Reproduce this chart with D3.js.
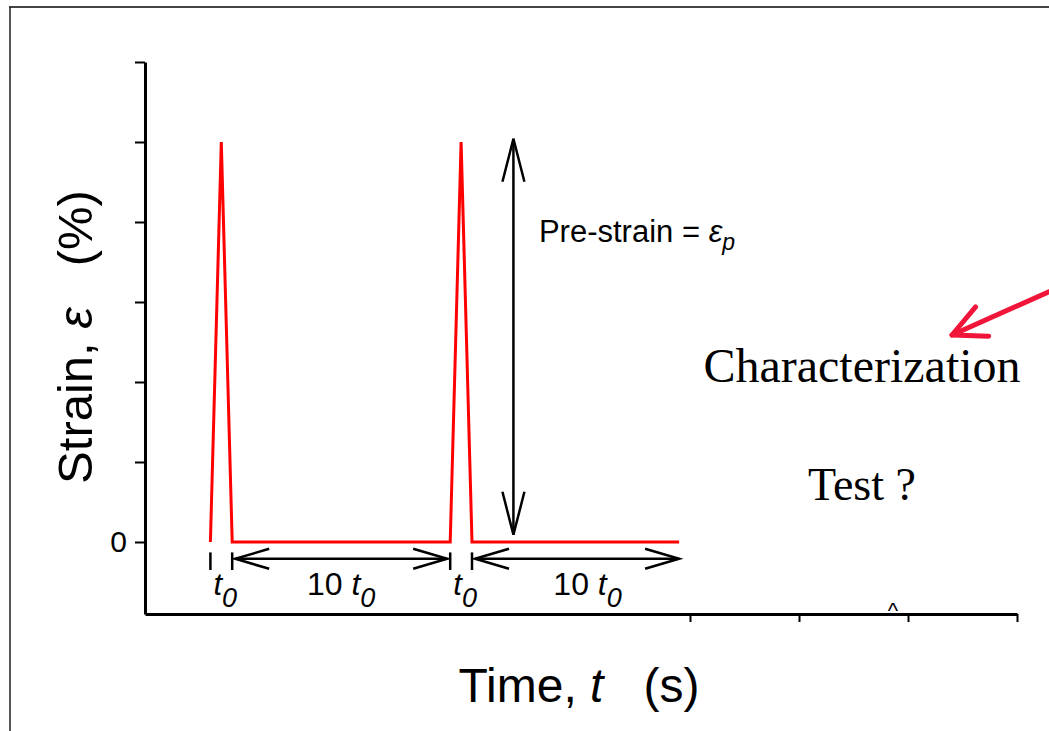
<!DOCTYPE html>
<html>
<head>
<meta charset="utf-8">
<script src="https://cdn.jsdelivr.net/npm/d3@7"></script>
<style>
  body { margin: 0; background: #fff; }
  text { white-space: pre; }
</style>
</head>
<body>
<div id="chart"></div>
<script>
// strain history (time in units of t0, strain in axis units)
var time   = [0, 0.5, 1, 11, 11.5, 12, 21.5];
var strain = [0, 5,   0, 0,  5,    0,  0];

var yTicks = [0, 1, 2, 3, 4, 5, 6];
var yTickLabels = ["0", "", "", "", "", "", ""];
var xTicks = [22, 27, 32, 37];

// dimension annotations under the curve
var dimMarks = [0, 1, 11, 12];
var spanStart = [1, 12];
var spanEnd = [11, 21.5];
var spanLabelAt = [6, 17.3];
var pulseLabelAt = [0.5, 11.5];

var width = 1049, height = 731;

var svg = d3.select("#chart").append("svg")
    .attr("width", width)
    .attr("height", height);

var x = d3.scaleLinear().domain([-3, 37]).range([145, 1017]);
var y = d3.scaleLinear().domain([-0.9, 6]).range([614, 62]);

var sans = "'Liberation Sans', Arial, sans-serif";
var serif = "'Liberation Serif', 'Times New Roman', serif";

// outer frame (top + left only)
svg.append("line").attr("x1", 9).attr("y1", 7).attr("x2", width).attr("y2", 7)
    .attr("stroke", "#444").attr("stroke-width", 2);
svg.append("line").attr("x1", 10).attr("y1", 7).attr("x2", 10).attr("y2", height)
    .attr("stroke", "#222").attr("stroke-width", 1.5);

// axes
var yAxis = svg.append("g")
    .attr("transform", "translate(" + x.range()[0] + ",0)")
    .call(d3.axisLeft(y).tickValues(yTicks).tickSize(10).tickSizeOuter(0)
      .tickPadding(8)
      .tickFormat(function(d, i) { return yTickLabels[i]; }));

var xAxis = svg.append("g")
    .attr("transform", "translate(0," + y.range()[0] + ")")
    .call(d3.axisBottom(x).tickValues(xTicks).tickSize(8).tickSizeOuter(0)
      .tickFormat(""));

yAxis.select(".domain").attr("stroke", "#000").attr("stroke-width", 3);
xAxis.select(".domain").attr("stroke", "#000").attr("stroke-width", 3);
yAxis.selectAll(".tick line").attr("stroke", "#000").attr("stroke-width", 2);
xAxis.selectAll(".tick line").attr("stroke", "#000").attr("stroke-width", 2);
yAxis.selectAll(".tick text")
    .attr("font-family", sans)
    .attr("font-size", 30).attr("fill", "#000");

// axis titles
var yTitle = svg.append("text")
    .attr("transform", "translate(92," + 337 + ") rotate(-90)")
    .attr("text-anchor", "middle")
    .attr("font-family", sans)
    .attr("font-size", 49);
yTitle.append("tspan").text("Strain, ");
yTitle.append("tspan").attr("font-style", "italic").text("\u03b5");
yTitle.append("tspan").text("   (%)");

var xTitle = svg.append("text")
    .attr("x", 579).attr("y", 702)
    .attr("text-anchor", "middle")
    .attr("font-family", sans)
    .attr("font-size", 48);
xTitle.append("tspan").text("Time, ");
xTitle.append("tspan").attr("font-style", "italic").text("t");
xTitle.append("tspan").text("   (s)");

// strain curve
var line = d3.line()
    .x(function(d, i) { return x(time[i]); })
    .y(function(d) { return y(d); });

svg.append("path")
    .datum(strain)
    .attr("d", line)
    .attr("fill", "none")
    .attr("stroke", "#ff0000")
    .attr("stroke-width", 3)
    .attr("stroke-linejoin", "miter");

// open arrow head helper
function arrowHead(tx, ty, dx, dy, len, half) {
  var l = Math.sqrt(dx * dx + dy * dy), ux = dx / l, uy = dy / l;
  var bx = tx - ux * len, by = ty - uy * len;
  return "M" + (bx - uy * half) + "," + (by + ux * half) +
         "L" + tx + "," + ty +
         "L" + (bx + uy * half) + "," + (by - ux * half);
}

var ann = svg.append("g").attr("stroke", "#000").attr("fill", "none")
    .attr("stroke-width", 2.5);

// dimension bars
ann.selectAll("line.dim").data(dimMarks).enter().append("line")
    .attr("class", "dim")
    .attr("x1", function(d) { return x(d); }).attr("x2", function(d) { return x(d); })
    .attr("y1", y(-0.13)).attr("y2", y(-0.35));

// horizontal double arrows
var yArrow = y(-0.21);
spanStart.forEach(function(s, i) {
  var x1 = x(s) + 3, x2 = i === 0 ? x(spanEnd[i]) - 3 : x(spanEnd[i]);
  ann.append("line").attr("x1", x1).attr("x2", x2).attr("y1", yArrow).attr("y2", yArrow);
  ann.append("path").attr("d", arrowHead(x1, yArrow, -1, 0, 34, 10));
  ann.append("path").attr("d", arrowHead(x2, yArrow, 1, 0, 34, 10));
});

// pre-strain vertical double arrow
var xPre = x(13.9), yTop = y(5.04), yBot = y(0.09);
ann.append("line").attr("x1", xPre).attr("x2", xPre).attr("y1", yTop).attr("y2", yBot);
ann.append("path").attr("d", arrowHead(xPre, yTop, 0, -1, 43, 11));
ann.append("path").attr("d", arrowHead(xPre, yBot, 0, 1, 43, 11));

// labels
pulseLabelAt.forEach(function(t) {
  var tx = svg.append("text").attr("x", x(t) + 4).attr("y", y(-0.66))
      .attr("text-anchor", "middle").attr("font-family", sans)
      .attr("font-size", 31).attr("font-style", "italic");
  tx.append("tspan").text("t");
  tx.append("tspan").attr("font-size", 27).attr("dy", 12).text("0");
});

spanLabelAt.forEach(function(t) {
  var tx = svg.append("text").attr("x", x(t)).attr("y", y(-0.66))
      .attr("text-anchor", "middle").attr("font-family", sans)
      .attr("font-size", 32);
  tx.append("tspan").text("10 ");
  tx.append("tspan").attr("font-style", "italic").text("t");
  tx.append("tspan").attr("font-style", "italic").attr("font-size", 27)
      .attr("dy", 12).text("0");
});

var pre = svg.append("text").attr("x", x(15.07)).attr("y", y(3.75))
    .attr("font-family", sans).attr("font-size", 31);
pre.append("tspan").text("Pre-strain = ");
pre.append("tspan").attr("font-style", "italic").text("\u03b5");
pre.append("tspan").attr("font-style", "italic").attr("font-size", 23)
    .attr("dy", 8).text("p");

svg.append("text").attr("x", 862).attr("y", 382)
    .attr("text-anchor", "middle").attr("font-family", serif)
    .attr("font-size", 48).text("Characterization");
svg.append("text").attr("x", 862).attr("y", 500)
    .attr("text-anchor", "middle").attr("font-family", serif)
    .attr("font-size", 46).text("Test ?");

svg.append("text").attr("x", 893).attr("y", 618)
    .attr("text-anchor", "middle").attr("font-family", sans)
    .attr("font-size", 22).text("^");

// red pointer arrow
var tip = [952, 335], tail = [1062, 286];
var red = svg.append("g").attr("stroke", "#f2153a").attr("fill", "none")
    .attr("stroke-width", 5).attr("stroke-linecap", "round").attr("stroke-linejoin", "round");
red.append("line").attr("x1", tail[0]).attr("y1", tail[1]).attr("x2", tip[0]).attr("y2", tip[1]);
red.append("path").attr("d", arrowHead(tip[0], tip[1], tip[0] - tail[0], tip[1] - tail[1], 33, 16));
</script>
</body>
</html>
